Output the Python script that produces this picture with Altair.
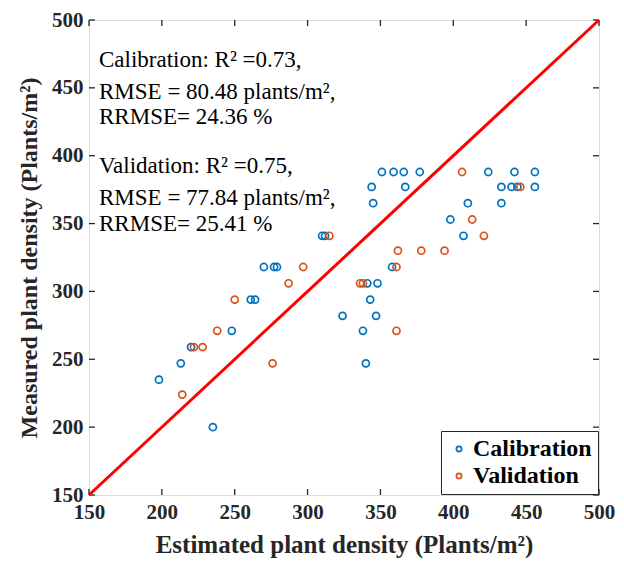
import altair as alt
import pandas as pd

# Calibration (blue) points: estimated, measured
cal_est = [198, 213, 220, 235, 248, 261, 264, 270, 277, 279, 310, 312, 324, 338, 340,
           341, 343, 344, 345, 347, 348, 351, 358, 359, 366, 367, 377, 398, 407, 410,
           424, 433, 433, 440, 442, 444, 456, 456]
cal_meas = [235, 247, 259, 200, 271, 294, 294, 318, 318, 318, 341, 341, 282, 271, 247,
            306, 294, 377, 365, 282, 306, 388, 318, 388, 388, 377, 388, 353, 341, 365,
            388, 377, 365, 377, 388, 377, 388, 377]
# Validation (orange) points
val_est = [214, 222, 228, 238, 250, 276, 287, 297, 315, 336, 338, 361, 361, 362, 378,
           394, 406, 413, 421, 446]
val_meas = [224, 259, 259, 271, 294, 247, 306, 318, 341, 306, 306, 318, 271, 330, 330,
            330, 388, 353, 341, 377]

ticks = [150, 200, 250, 300, 350, 400, 450, 500]
line_x = [150, 500]
line_y = [150, 500]

ann_lines = ["Calibration: R\u00b2 =0.73,",
             "RMSE = 80.48 plants/m\u00b2,",
             "RRMSE= 24.36 %",
             "Validation: R\u00b2 =0.75,",
             "RMSE = 77.84 plants/m\u00b2,",
             "RRMSE= 25.41 %"]
ann_y = [47, 79, 104, 153, 185, 211]

W, H = 510, 475
FONT = "Liberation Serif"

pts = pd.DataFrame({
    "est": cal_est + val_est,
    "meas": cal_meas + val_meas,
    "set": ["Calibration"] * len(cal_est) + ["Validation"] * len(val_est),
})
line_df = pd.DataFrame({"est": line_x, "meas": line_y})
tick_df = pd.DataFrame({"t": ticks})
ann_df = pd.DataFrame({"txt": ann_lines, "py": ann_y})

xs = alt.Scale(domain=[150, 500], nice=False, zero=False)
ys = alt.Scale(domain=[150, 500], nice=False, zero=False)

xaxis = alt.Axis(values=ticks, title="Estimated plant density (Plants/m\u00b2)",
                 grid=False, ticks=False, domain=False, labelPadding=6, labelFlush=False,
                 labelFont=FONT, labelFontWeight="bold", labelFontSize=21, labelColor="#262626",
                 titleFont=FONT, titleFontWeight="bold", titleFontSize=25, titleColor="#262626",
                 titleBaseline="alphabetic", titleY=57)
yaxis = alt.Axis(values=ticks, title="Measured plant density (Plants/m\u00b2)",
                 grid=False, ticks=False, domain=False, labelPadding=6, labelFlush=False,
                 labelFont=FONT, labelFontWeight="bold", labelFontSize=21, labelColor="#262626",
                 titleFont=FONT, titleFontWeight="bold", titleFontSize=24, titleColor="#262626",
                 titleBaseline="alphabetic", titleX=-53)

points = alt.Chart(pts).mark_point(shape="circle", filled=False, size=50, strokeWidth=1.7, opacity=1).encode(
    x=alt.X("est:Q", scale=xs, axis=xaxis),
    y=alt.Y("meas:Q", scale=ys, axis=yaxis),
    color=alt.Color("set:N", scale=alt.Scale(domain=["Calibration", "Validation"],
                                             range=["#0072BD", "#D95319"]),
                    legend=alt.Legend(title=None, orient="bottom-right", offset=1,
                                      labelFont=FONT, labelFontWeight="bold", labelFontSize=24,
                                      labelColor="#000000", symbolType="circle", symbolSize=28,
                                      symbolStrokeWidth=1.7, symbolFillColor="transparent",
                                      strokeColor="#262626", fillColor="white", padding=6,
                                      rowPadding=3, symbolOffset=0, labelOffset=2)),
)

line = alt.Chart(line_df).mark_line(color="#FF0000", strokeWidth=3).encode(
    x=alt.X("est:Q", scale=xs), y=alt.Y("meas:Q", scale=ys))

tb = alt.Chart(tick_df).mark_rule(color="#262626", strokeWidth=1.3)
tick_layers = [
    tb.encode(x=alt.X("t:Q", scale=xs), y=alt.value(H), y2=alt.value(H - 6)),
    tb.encode(x=alt.X("t:Q", scale=xs), y=alt.value(0), y2=alt.value(6)),
    tb.encode(y=alt.Y("t:Q", scale=ys), x=alt.value(0), x2=alt.value(6)),
    tb.encode(y=alt.Y("t:Q", scale=ys), x=alt.value(W), x2=alt.value(W - 6)),
]

ann = alt.Chart(ann_df).mark_text(align="left", baseline="alphabetic", font=FONT,
                                  fontSize=23, color="#000000").encode(
    x=alt.value(10), y=alt.Y("py:Q", scale=None), text="txt:N")

chart = alt.layer(*tick_layers, points, line, ann).properties(
    width=W, height=H,
    autosize=alt.AutoSizeParams(type="none"),
    padding={"left": 81, "top": 12, "right": 17, "bottom": 64},
).configure_view(stroke="#262626", strokeWidth=2).configure(background="white")

chart.save("out.html", embed_options={"renderer": "svg", "actions": False})
